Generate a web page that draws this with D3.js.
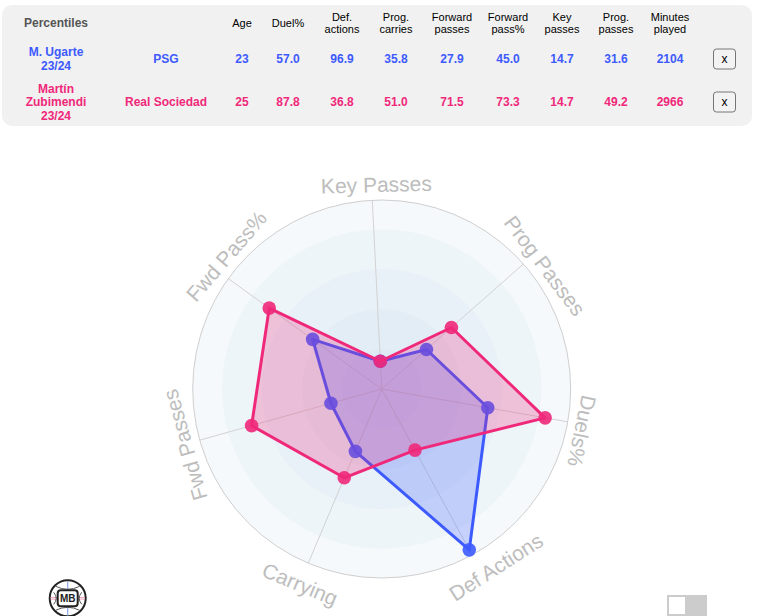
<!DOCTYPE html>
<html>
<head>
<meta charset="utf-8">
<script src="https://cdn.jsdelivr.net/npm/d3@7"></script>
<style>
  body { margin: 0; background: #fff; }
  svg text { font-family: "Liberation Sans", Arial, Helvetica, sans-serif; }
</style>
</head>
<body>
<div id="chart"></div>
<script>
// table columns (header lines)
const headers = [["Age"], ["Duel%"], ["Def.", "actions"], ["Prog.", "carries"], ["Forward", "passes"],
  ["Forward", "pass%"], ["Key", "passes"], ["Prog.", "passes"], ["Minutes", "played"]];

const players = [
  { name: ["M. Ugarte", "23/24"], team: "PSG", color: "#3d5afe" },
  { name: ["Martín", "Zubimendi", "23/24"], team: "Real Sociedad", color: "#f0287a" }
];
// same order as headers
const ugarteVals = [23, 57.0, 96.9, 35.8, 27.9, 45.0, 14.7, 31.6, 2104];
const zubimendiVals = [25, 87.8, 36.8, 51.0, 71.5, 73.3, 14.7, 49.2, 2966];
const playerVals = [ugarteVals, zubimendiVals];

// radar axes, clockwise from the top, and which table column feeds each
const axisLabels = ["Key Passes", "Prog Passes", "Duels%", "Def Actions", "Carrying", "Fwd Passes", "Fwd Pass%"];
const axisCols = [6, 7, 1, 2, 3, 4, 5];

const W = 759, H = 616;
const svg = d3.select("#chart").append("svg")
  .attr("width", W).attr("height", H);

// ---------- table ----------
const colX = [242, 288, 342, 396, 452, 508, 562, 616, 670];
const rowY = [59, 102];

svg.append("rect")
  .attr("x", 2).attr("y", 5).attr("width", 750).attr("height", 121)
  .attr("rx", 10).attr("fill", "#f1f1f1");

svg.append("text")
  .attr("x", 56).attr("y", 23).attr("dy", "0.35em")
  .attr("text-anchor", "middle")
  .style("font-size", "12px").style("font-weight", "bold").attr("fill", "#555")
  .text("Percentiles");

const head = svg.append("g").selectAll("text")
  .data(headers).enter().append("text")
    .attr("text-anchor", "middle")
    .style("font-size", "11px").attr("fill", "#000");
head.each(function (d, i) {
  const t = d3.select(this);
  d.forEach(function (line, j) {
    t.append("tspan")
      .attr("x", colX[i])
      .attr("y", (d.length === 1 ? 23 : 17 + j * 12.5))
      .attr("dy", "0.35em")
      .text(line);
  });
});

const rows = svg.append("g").selectAll("g")
  .data(players).enter().append("g")
    .attr("fill", function (d) { return d.color; })
    .style("font-size", "12px").style("font-weight", "bold");

rows.each(function (p, r) {
  const g = d3.select(this);
  const name = g.append("text").attr("text-anchor", "middle");
  p.name.forEach(function (line, j) {
    name.append("tspan")
      .attr("x", 56)
      .attr("y", rowY[r] + (j - (p.name.length - 1) / 2) * 13.5)
      .attr("dy", "0.35em")
      .text(line);
  });
  g.append("text")
    .attr("x", 166).attr("y", rowY[r]).attr("dy", "0.35em")
    .attr("text-anchor", "middle")
    .text(p.team);
  g.selectAll(".val")
    .data(playerVals[r]).enter().append("text")
      .attr("class", "val")
      .attr("x", function (d, i) { return colX[i]; })
      .attr("y", rowY[r]).attr("dy", "0.35em")
      .attr("text-anchor", "middle")
      .text(function (d, i) { return (i === 0 || i === 8) ? d : d.toFixed(1); });
  // remove button
  g.append("rect")
    .attr("x", 713.5).attr("y", rowY[r] - 10).attr("width", 22).attr("height", 20)
    .attr("rx", 3).attr("fill", "#f3f3f3").attr("stroke", "#767676");
  g.append("text")
    .attr("x", 724.5).attr("y", rowY[r]).attr("dy", "0.35em")
    .attr("text-anchor", "middle")
    .style("font-weight", "normal").style("font-size", "12px")
    .attr("fill", "#000")
    .text("x");
});

// ---------- radar ----------
const cx = 381.7, cy = 389, R = 189;
const rot = -2.85 * Math.PI / 180;
const n = axisLabels.length;
const r = d3.scaleLinear().domain([0, 100]).range([0, R]);
const ang = d3.scaleLinear().domain([0, n]).range([rot, rot + 2 * Math.PI]);

const radar = svg.append("g").attr("transform", "translate(" + cx + "," + cy + ")");

// background rings, outer first
const bands = [100, 84.5, 63.5, 42.3, 21.2];
const bandFill = ["#f5f9fc", "#eef5f9", "#e8f1f7", "#e3edf5", "#deeaf4"];
radar.selectAll(".band")
  .data(bands).enter().append("circle")
    .attr("class", "band")
    .attr("r", function (d) { return r(d); })
    .attr("fill", function (d, i) { return bandFill[i]; })
    .attr("stroke", function (d, i) { return i === 0 ? "#cfcfcf" : "none"; });

radar.selectAll(".spoke")
  .data(axisLabels).enter().append("line")
    .attr("class", "spoke")
    .attr("x2", function (d, i) { return R * Math.sin(ang(i)); })
    .attr("y2", function (d, i) { return -R * Math.cos(ang(i)); })
    .attr("stroke", "#d2d2d2").attr("stroke-width", 1);

// axis labels
const labelShift = [-1.5, 1.5, -1, -7, -3, -3, 2];
radar.selectAll(".lab")
  .data(axisLabels).enter().append("text")
    .attr("class", "lab")
    .attr("text-anchor", "middle")
    .style("font-size", "21px").attr("fill", "#bdbdbd")
    .attr("transform", function (d, i) {
      const deg = i * 360 / n + labelShift[i];
      const a = deg * Math.PI / 180;
      const flip = Math.cos(a) < -0.5;
      const rr = flip ? R + 30 : R + 8;
      return "translate(" + (rr * Math.sin(a)) + "," + (-rr * Math.cos(a)) + ") rotate(" + (flip ? deg - 180 : deg) + ")";
    })
    .text(function (d) { return d; });

const line = d3.lineRadial()
  .angle(function (d, i) { return ang(i); })
  .radius(function (d) { return r(d); })
  .curve(d3.curveLinearClosed);

const series = players.map(function (p, k) {
  return { color: p.color, values: axisCols.map(function (c) { return playerVals[k][c]; }) };
});

const shape = radar.selectAll(".shape")
  .data(series).enter().append("g").attr("class", "shape");

shape.append("path")
  .attr("d", function (d) { return line(d.values); })
  .attr("fill", function (d) { return d.color; })
  .attr("fill-opacity", 0.25)
  .attr("stroke", function (d) { return d.color; })
  .attr("stroke-width", 3)
  .attr("stroke-linejoin", "round");

shape.selectAll("circle")
  .data(function (d) { return d.values.map(function (v) { return { v: v, color: d.color }; }); })
  .enter().append("circle")
    .attr("cx", function (d, i) { return r(d.v) * Math.sin(ang(i)); })
    .attr("cy", function (d, i) { return -r(d.v) * Math.cos(ang(i)); })
    .attr("r", 6.8)
    .attr("fill", function (d) { return d.color; })
    .attr("fill-opacity", 0.9);

// ---------- logo ----------
const logo = svg.append("g").attr("transform", "translate(67.7,598.3)");
logo.append("circle").attr("r", 18).attr("fill", "#fff").attr("stroke", "#222").attr("stroke-width", 2);
[-8, 8].forEach(function (o) {
  logo.append("line").attr("x1", -17).attr("x2", 17).attr("y1", o * 0.1).attr("y2", o * 0.1)
    .attr("stroke", "#f4a6c4").attr("stroke-width", 1);
});
logo.append("line").attr("x1", 0).attr("x2", 0).attr("y1", -17).attr("y2", 17)
  .attr("stroke", "#8aa8ee").attr("stroke-width", 1.2);
logo.append("path").attr("d", "M-12,-12 Q0,-6 12,-12 M-12,12 Q0,6 12,12 M-14,-6 Q-9,0 -14,6 M14,-6 Q9,0 14,6")
  .attr("fill", "none").attr("stroke", "#555").attr("stroke-width", 1);
logo.append("rect").attr("x", -10).attr("y", -8).attr("width", 20).attr("height", 16).attr("rx", 3)
  .attr("fill", "#fff").attr("stroke", "#222").attr("stroke-width", 2);
logo.append("text").attr("text-anchor", "middle").attr("dy", "0.35em")
  .style("font-size", "10px").style("font-weight", "bold").attr("fill", "#222").text("MB");

// ---------- toggle ----------
svg.append("rect").attr("x", 667).attr("y", 595).attr("width", 40).attr("height", 21).attr("fill", "#cccccc");
svg.append("rect").attr("x", 669).attr("y", 597).attr("width", 16).attr("height", 17).attr("fill", "#fff");
</script>
</body>
</html>
